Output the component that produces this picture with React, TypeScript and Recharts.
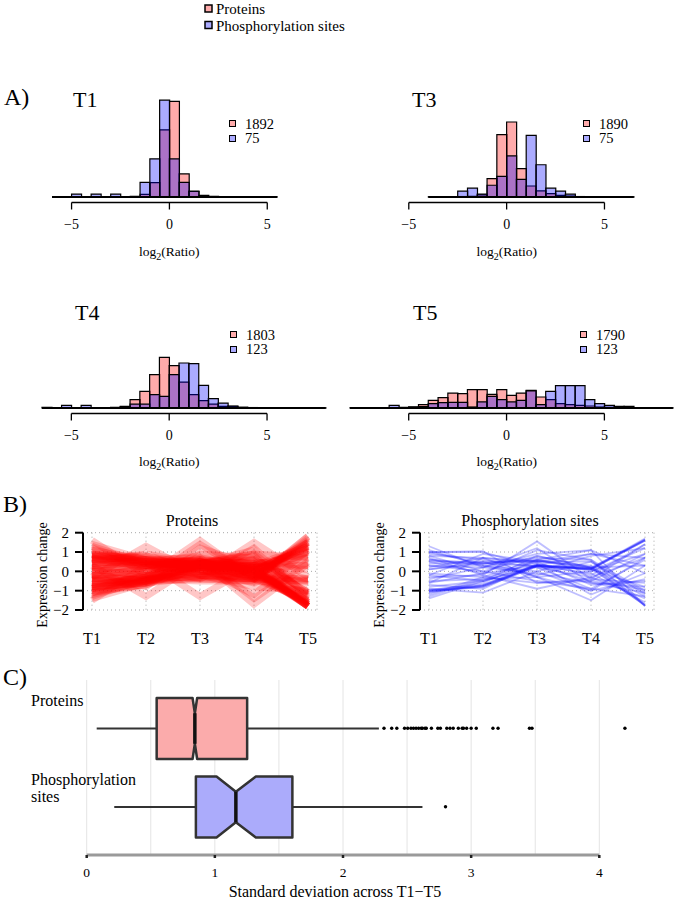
import React from "react";
import {
  ComposedChart,
  Bar,
  XAxis,
  YAxis,
  ReferenceLine,
  ReferenceDot,
  Legend,
  LineChart,
  Line,
  CartesianGrid,
} from "recharts";

const FONT = "'Liberation Serif', 'Times New Roman', Times, serif";
const PINK = "rgba(255,0,0,0.33)";
const BLUE = "rgba(0,0,255,0.33)";

// A) log2 ratio histograms (density per 0.5 wide bin)
const BIN = 0.5;
const histTicks = [-5, 0, 5];

const t1Start = -6;
const t1Proteins = [0, 0, 0, 0, 0, 0, 0, 0, 0.006, 0.024, 0.13, 0.61, 0.87, 0.21, 0.05, 0.015, 0.006, 0.003, 0.002, 0.002, 0.001, 0.001, 0.001];
const t1Sites = [0, 0, 0.027, 0, 0.027, 0, 0.027, 0, 0, 0.133, 0.347, 0.88, 0.347, 0.133, 0.053, 0, 0, 0, 0, 0, 0, 0, 0];
const t1Counts = ["1892", "75"];

const t3Start = -4;
const t3Proteins = [0.002, 0.002, 0.002, 0.004, 0.006, 0.02, 0.167, 0.567, 0.682, 0.258, 0.1, 0.055, 0.03, 0.015, 0.009, 0.004, 0.002, 0.002, 0.001, 0.001, 0.001];
const t3Sites = [0, 0, 0, 0.053, 0.08, 0.027, 0.107, 0.187, 0.373, 0.16, 0.56, 0.293, 0.08, 0.053, 0.027, 0, 0, 0, 0, 0, 0];
const t3Counts = ["1890", "75"];

const t4Start = -6.5;
const t4Proteins = [0.006, 0, 0, 0, 0, 0.002, 0.003, 0.006, 0.015, 0.076, 0.152, 0.303, 0.46, 0.385, 0.236, 0.121, 0.067, 0.036, 0.015, 0.015, 0.006, 0.004, 0.003, 0.002, 0.002, 0.001, 0.001, 0.001, 0.001];
const t4Sites = [0, 0, 0.024, 0, 0.024, 0, 0, 0, 0.012, 0.036, 0.036, 0.121, 0.106, 0.303, 0.409, 0.403, 0.206, 0.085, 0.045, 0.018, 0.006, 0, 0, 0, 0, 0, 0, 0, 0];
const t4Counts = ["1803", "123"];

const t5Start = -8;
const t5Proteins = [0.002, 0.002, 0.002, 0.003, 0.003, 0.005, 0.009, 0.03, 0.07, 0.094, 0.136, 0.13, 0.167, 0.167, 0.124, 0.167, 0.115, 0.136, 0.16, 0.1, 0.076, 0.039, 0.03, 0.024, 0.018, 0.009, 0.006, 0.003, 0.002, 0.001, 0.001, 0.001, 0.001];
const t5Sites = [0, 0, 0, 0, 0.024, 0, 0.009, 0.012, 0.039, 0.048, 0.052, 0.052, 0.009, 0.055, 0.106, 0.076, 0.055, 0.07, 0.155, 0.03, 0.152, 0.203, 0.203, 0.203, 0.076, 0.039, 0.024, 0.015, 0.015, 0, 0, 0, 0];
const t5Counts = ["1790", "123"];

// B) standardised profiles across time points
const times = ["T1", "T2", "T3", "T4", "T5"];
const profileTicks = [-2, -1, 0, 1, 2];

const proteinProfiles = [
  [0.9, 0.6, 0.3, 0.0, -1.8], [0.8, 0.5, 0.4, 0.1, -1.8], [0.7, 0.6, 0.5, 0.0, -1.8],
  [1.0, 0.5, 0.2, 0.1, -1.8], [0.6, 0.5, 0.5, 0.2, -1.8], [0.8, 0.7, 0.2, 0.0, -1.7],
  [0.5, 0.4, 0.6, 0.3, -1.8], [0.9, 0.3, 0.4, 0.2, -1.8], [0.7, 0.4, 0.3, 0.3, -1.7],
  [1.1, 0.6, 0.1, -0.2, -1.6], [0.4, 0.6, 0.7, 0.2, -1.8], [0.8, 0.8, 0.3, -0.3, -1.6],
  [0.6, 0.3, 0.6, 0.4, -1.8], [1.2, 0.3, 0.0, 0.0, -1.5], [0.3, 0.5, 0.8, 0.1, -1.7],
  [0.9, 0.5, 0.5, -0.4, -1.5], [0.7, 0.2, 0.2, 0.5, -1.6], [0.5, 0.9, 0.4, -0.1, -1.7],
  [1.3, 0.4, -0.2, -0.4, -1.1], [0.6, 0.8, 0.0, -0.2, -1.2],
  [-0.9, -0.5, 0.0, 0.0, 1.4], [-1.0, -0.4, 0.2, -0.1, 1.3], [-0.8, -0.6, 0.1, 0.0, 1.3],
  [-1.1, -0.5, 0.3, 0.1, 1.2], [-0.7, -0.4, -0.1, -0.3, 1.5], [-0.9, -0.3, 0.3, 0.2, 0.7],
  [-0.6, -0.6, -0.3, 0.0, 1.5], [-1.2, -0.5, 0.4, 0.3, 1.0], [-0.8, -0.2, 0.2, -0.2, 1.0],
  [-0.5, -0.5, -0.4, -0.4, 1.8], [-0.4, -0.4, -0.5, -0.5, 1.8], [-0.7, -0.3, -0.3, -0.4, 1.7],
  [-1.0, -0.7, 0.4, 0.1, 1.2], [-0.9, -0.2, 0.0, -0.4, 1.5], [-1.3, -0.4, 0.5, 0.4, 0.8],
  [-0.8, -0.6, 0.5, -0.2, 1.1], [-0.6, -0.5, -0.2, -0.3, 1.6], [-1.1, -0.7, 0.2, 0.3, 1.3],
  [-0.4, -0.3, 1.6, -0.4, -0.5], [-0.2, -0.5, 1.4, -0.3, -0.4], [1.6, -0.2, -0.4, -0.5, -0.5],
  [-1.5, 0.3, 0.4, 0.5, 0.3], [-0.3, 1.3, -0.2, -0.4, -0.4], [0.3, -1.3, 0.5, 0.2, 0.3],
  [0.3, 0.4, 0.6, -1.7, 0.4], [-0.5, -0.4, -0.3, 1.5, -0.3], [0.4, 0.5, -1.3, 0.3, 0.1],
  [0.2, 0.0, 0.7, -1.4, 0.5], [-0.2, -0.3, 0.9, 0.7, -1.1], [0.0, 0.2, 0.3, 0.6, -1.1],
  [-1.4, -0.6, 0.4, 0.9, 0.7], [1.4, 0.6, -0.2, -0.8, -1.0], [0.1, -0.2, 0.4, 1.1, -1.4],
  [-0.2, 0.1, 0.2, -1.2, 1.1], [0.2, 0.3, -0.4, 1.2, -1.3], [-0.3, -0.8, 1.2, 0.3, -0.4],
  [0.1, 0.3, 0.4, 0.8, -1.6], [-0.3, 0.2, 0.4, 0.9, -1.2], [0.0, -0.2, 0.1, -0.6, 0.7],
  [-0.4, 0.0, 0.5, 0.6, -0.7],
];

const siteProfiles = [
  [-1.05, -0.75, 0.3, 0.15, 1.65], [-1.0, -0.8, 0.25, 0.1, 1.6], [-1.1, -0.7, 0.35, 0.1, 1.65],
  [-1.0, -0.75, 0.3, 0.2, 1.6], [-1.05, -0.8, 0.25, 0.15, 1.7], [-0.95, -0.7, 0.3, 0.1, 1.6],
  [0.5, 0.5, 0.55, 0.2, -1.75], [0.6, 0.4, 0.6, 0.15, -1.75], [0.4, 0.45, 0.5, 0.3, -1.7],
  [1.0, 0.4, 0.3, -0.1, -1.6], [1.3, 0.2, -0.1, -0.6, -0.8], [1.0, 1.0, 0.2, -0.9, -1.3],
  [0.8, 0.7, -0.3, -1.5, 0.3], [-0.3, -0.2, 1.55, -0.4, -0.6], [-0.6, -0.1, 1.1, 0.6, -1.0],
  [0.3, 0.0, 0.8, 0.2, -1.3], [-1.3, -0.4, 0.5, 0.9, 0.3], [-0.9, -1.1, 0.0, 0.8, 1.2],
  [0.1, 0.5, -0.3, -1.0, 0.7], [-0.4, 0.2, 0.9, 1.1, -1.8], [0.7, -0.2, -0.9, -0.3, 0.7],
  [-0.6, 0.7, 0.5, 0.5, -1.1], [1.0, 1.05, -0.6, -0.5, -0.95], [-0.2, -0.5, 0.3, -0.5, 0.9],
  [0.3, 0.2, 1.2, -0.6, -1.1], [-1.2, -0.3, 0.6, 0.0, 0.9], [0.6, 0.3, -0.2, 0.5, -1.2],
  [-0.8, -0.5, 0.8, 0.2, 0.3], [0.9, 0.6, 0.2, -0.3, -1.4], [-0.5, -0.4, -0.3, 0.0, 1.2],
  [0.2, 0.7, 0.4, -1.2, -0.1], [-1.0, -0.6, 0.6, 1.1, -0.1], [1.1, 0.3, 0.0, -1.0, -0.4],
  [-0.1, -0.3, -0.6, -0.4, 1.4], [0.5, -0.1, 0.3, 0.1, -0.8], [-1.4, -0.5, 0.3, 0.9, 0.7],
  [0.1, 0.4, 0.7, 0.6, -1.8], [-0.7, -0.9, 0.4, -0.2, 1.4], [0.8, 0.0, -0.5, -0.9, 0.6],
  [-0.2, 0.9, 0.5, -0.7, -0.5],
];

// C) standard deviation across T1-T5
const boxNames = ["Proteins", "Phosphorylation sites"];
const boxLabelLines = [["Proteins"], ["Phosphorylation", "sites"]];
const boxWhiskerLo = [0.078, 0.215];
const boxQ1 = [0.546, 0.852];
const boxNotchLo = [0.826, 1.013];
const boxMedian = [0.844, 1.164];
const boxNotchHi = [0.862, 1.32];
const boxQ3 = [1.252, 1.605];
const boxWhiskerHi = [2.28, 2.62];
const proteinOutliers = [2.32, 2.38, 2.42, 2.48, 2.505, 2.53, 2.55, 2.57, 2.59, 2.61, 2.62, 2.64, 2.65, 2.69, 2.74, 2.76, 2.81, 2.835, 2.86, 2.9, 2.93, 2.94, 2.965, 3.0, 3.04, 3.17, 3.21, 3.455, 3.475, 4.2];
const siteOutliers = [2.8];
const sdTicks = [0, 1, 2, 3, 4];
const sdGrid = [0, 0.5, 1, 1.5, 2, 2.5, 3, 3.5, 4];
const boxFills = ["#fbabab", "#ababfb"];

// layout
const PX_UNIT = 19.57; // px per log2 unit in the histograms
const PX_DENS = 110; // px per density unit
const DENS_MIN = -0.05;
const DENS_MAX = 1;

const fmtMinus = (v: number) => (v < 0 ? `\u2212${Math.abs(v)}` : `${v}`);

const histPanels = [
  { title: "T1", start: t1Start, prot: t1Proteins, sites: t1Sites, counts: t1Counts, zero: 169.3, baseline: 197, legendX: 229 },
  { title: "T3", start: t3Start, prot: t3Proteins, sites: t3Sites, counts: t3Counts, zero: 506.8, baseline: 197, legendX: 583 },
  { title: "T4", start: t4Start, prot: t4Proteins, sites: t4Sites, counts: t4Counts, zero: 169.3, baseline: 408, legendX: 230 },
  { title: "T5", start: t5Start, prot: t5Proteins, sites: t5Sites, counts: t5Counts, zero: 506.8, baseline: 408, legendX: 580 },
];

function Histogram({ panel }: { panel: any }) {
  const { start, prot, sites, counts, zero, baseline, legendX } = panel;
  const rows = prot.map((p: number, i: number) => ({ bin: start + i * BIN, prot: p, sites: sites[i] }));
  const lo = start;
  const hi = start + prot.length * BIN;
  // the axis bracket may reach beyond the bins, so the value domain covers both
  const dMin = Math.min(lo, histTicks[0] - BIN);
  const dMax = Math.max(hi, histTicks[histTicks.length - 1] + BIN);
  const padL = (lo - dMin) * PX_UNIT;
  const padR = (dMax - hi) * PX_UNIT;
  const plotLeft = zero + dMin * PX_UNIT;
  const plotW = (dMax - dMin) * PX_UNIT;
  const left = plotLeft - 10;
  const top = baseline - DENS_MAX * PX_DENS - 7;
  const axisH = 34;
  const height = 7 + (DENS_MAX - DENS_MIN) * PX_DENS + axisH + 4;

  const legend = (props: any) => {
    const items = props.payload || [];
    const order = ["prot", "sites"];
    return (
      <div style={{ fontFamily: FONT, fontSize: 14.5, color: "#000" }}>
        {order.map((key, i) => {
          const item = items.find((it: any) => it.dataKey === key);
          return (
            <div key={key} style={{ display: "flex", alignItems: "center", height: 14.5 }}>
              <span style={{ display: "inline-block", width: 5, height: 5, border: "1.5px solid #000", background: item ? item.color : i ? BLUE : PINK, marginRight: 9 }} />
              <span style={{ lineHeight: "14.5px" }}>{counts[i]}</span>
            </div>
          );
        })}
      </div>
    );
  };

  return (
    <div style={{ position: "absolute", left, top }}>
      <ComposedChart width={plotW + 20} height={height} data={rows} margin={{ top: 7, right: 10, bottom: 4, left: 10 }} barCategoryGap={0} barGap={0}>
        <XAxis
          xAxisId="num"
          dataKey="bin"
          type="number"
          domain={[dMin, dMax]}
          allowDataOverflow
          ticks={histTicks}
          interval={0}
          axisLine={false}
          tickLine={{ stroke: "#000", strokeWidth: 1.3 }}
          tickSize={7}
          tickMargin={10}
          height={axisH}
          tick={{ fill: "#000", fontSize: 14, fontFamily: FONT }}
          tickFormatter={fmtMinus}
        />
        <XAxis xAxisId="p" dataKey="bin" type="category" hide height={0} padding={{ left: padL, right: padR }} />
        <XAxis xAxisId="b" dataKey="bin" type="category" hide height={0} padding={{ left: padL, right: padR }} />
        <YAxis hide domain={[DENS_MIN, DENS_MAX]} />
        <Bar xAxisId="p" dataKey="prot" name={counts[0]} fill={PINK} stroke="#000" strokeWidth={1.2} isAnimationActive={false} />
        <Bar xAxisId="b" dataKey="sites" name={counts[1]} fill={BLUE} stroke="#000" strokeWidth={1.2} isAnimationActive={false} />
        <ReferenceLine xAxisId="num" segment={[{ x: lo, y: 0 }, { x: hi, y: 0 }]} stroke="#000" strokeWidth={2} />
        <ReferenceLine
          xAxisId="num"
          segment={[{ x: histTicks[0], y: DENS_MIN }, { x: histTicks[histTicks.length - 1], y: DENS_MIN }]}
          stroke="#000"
          strokeWidth={1.3}
        />
        <Legend
          layout="vertical"
          align="center"
          verticalAlign="middle"
          content={legend}
          wrapperStyle={{ left: legendX - left, top: baseline - 80.5 - top, width: "auto", height: "auto" }}
        />
      </ComposedChart>
    </div>
  );
}

function Profiles({ left, profiles, color, opacity, lineWidth }: any) {
  const rows = times.map((t, i) => {
    const r: any = { t };
    profiles.forEach((p: number[], j: number) => {
      r[`s${j}`] = p[i];
    });
    return r;
  });
  return (
    <div style={{ position: "absolute", left, top: 520 }}>
      <LineChart width={337} height={132} data={rows} margin={{ top: 12.7, right: 20, bottom: 0, left: 20 }}>
        <CartesianGrid stroke="#a8a8a8" strokeDasharray="1 3" />
        <XAxis
          dataKey="t"
          axisLine={false}
          tickLine={false}
          padding={{ left: 9, right: 9 }}
          tickSize={6}
          tickMargin={17}
          height={42}
          interval={0}
          tick={{ fill: "#000", fontSize: 16, fontFamily: FONT }}
        />
        <YAxis
          domain={[-2, 2]}
          ticks={profileTicks}
          interval={0}
          width={63}
          axisLine={{ stroke: "#000", strokeWidth: 2 }}
          tickLine={{ stroke: "#000", strokeWidth: 2 }}
          tickSize={8}
          tickMargin={6}
          tick={{ fill: "#000", fontSize: 15, fontFamily: FONT }}
          tickFormatter={fmtMinus}
        />
        {profiles.map((_: number[], j: number) => (
          <Line
            key={j}
            dataKey={`s${j}`}
            stroke={color}
            strokeOpacity={opacity}
            strokeWidth={lineWidth}
            dot={false}
            activeDot={false}
            isAnimationActive={false}
          />
        ))}
      </LineChart>
    </div>
  );
}

const boxRows = boxNames.map((name, i) => ({
  name,
  wLo: boxWhiskerLo[i],
  q1: boxQ1[i],
  nLo: boxNotchLo[i],
  med: boxMedian[i],
  nHi: boxNotchHi[i],
  q3: boxQ3[i],
  wHi: boxWhiskerHi[i],
}));

const BoxShape = (props: any) => {
  const { x, y, width, height, payload, index } = props;
  const d = payload;
  const k = width / (d.q3 - d.q1);
  const px = (v: number) => x + (v - d.q1) * k;
  const top = y;
  const bot = y + height;
  const mid = y + height / 2;
  const inset = height / 4;
  const pts = [
    [px(d.q1), top], [px(d.nLo), top], [px(d.med), top + inset], [px(d.nHi), top], [px(d.q3), top],
    [px(d.q3), bot], [px(d.nHi), bot], [px(d.med), bot - inset], [px(d.nLo), bot], [px(d.q1), bot],
  ];
  return (
    <g>
      <line x1={px(d.wLo)} x2={px(d.q1)} y1={mid} y2={mid} stroke="#333" strokeWidth={2} />
      <line x1={px(d.q3)} x2={px(d.wHi)} y1={mid} y2={mid} stroke="#333" strokeWidth={2} />
      <polygon points={pts.map((p) => p.join(",")).join(" ")} fill={boxFills[index]} stroke="#333" strokeWidth={2.5} strokeLinejoin="round" />
      <line x1={px(d.med)} x2={px(d.med)} y1={top + inset} y2={bot - inset} stroke="#111" strokeWidth={3.5} />
    </g>
  );
};

const BoxLabel = (props: any) => {
  const { y, index } = props;
  const lines = boxLabelLines[index] || [];
  return (
    <text x={31} y={y - 22} fill="#000" fontSize={16} fontFamily={FONT}>
      {lines.map((l, i) => (
        <tspan key={l} x={31} dy={i ? 17 : 0}>
          {l}
        </tspan>
      ))}
    </text>
  );
};

function SdBoxPlot() {
  return (
    <div style={{ position: "absolute", left: 0, top: 670 }}>
      <ComposedChart layout="vertical" width={675} height={231} data={boxRows} margin={{ top: 10, right: 75.7, bottom: 6, left: 0 }}>
        <XAxis xAxisId="grid" type="number" domain={[0, 4]} allowDataOverflow ticks={sdGrid} hide height={0} />
        <CartesianGrid xAxisId="grid" horizontal={false} stroke="#e4e4e4" />
        <XAxis
          type="number"
          domain={[0, 4]}
          allowDataOverflow
          ticks={sdTicks}
          interval={0}
          axisLine={{ stroke: "#9a9a9a", strokeWidth: 3 }}
          tickLine={{ stroke: "#222", strokeWidth: 2.5 }}
          tickSize={3}
          tickMargin={9}
          height={40}
          tick={{ fill: "#000", fontSize: 13.5, fontFamily: FONT }}
        />
        <YAxis type="category" dataKey="name" width={86.7} axisLine={false} tickLine={false} tick={BoxLabel} padding={{ top: 9, bottom: 9 }} />
        <Bar dataKey={(d: any) => [d.q1, d.q3]} barSize={61} shape={BoxShape} isAnimationActive={false} />
        {proteinOutliers.map((v, i) => (
          <ReferenceDot key={`p${i}`} x={v} y={boxNames[0]} r={1.7} fill="#000" stroke="none" ifOverflow="visible" />
        ))}
        {siteOutliers.map((v, i) => (
          <ReferenceDot key={`s${i}`} x={v} y={boxNames[1]} r={1.7} fill="#000" stroke="none" ifOverflow="visible" />
        ))}
      </ComposedChart>
    </div>
  );
}

function Log2Label({ x, y }: { x: number; y: number }) {
  return (
    <text x={x} y={y} textAnchor="middle" fontSize={13.5} fontFamily={FONT} fill="#000">
      log
      <tspan dy={4} fontSize={10}>2</tspan>
      <tspan dy={-4}>(Ratio)</tspan>
    </text>
  );
}

export default function App() {
  return (
    <div style={{ position: "absolute", left: 0, top: 0, width: 675, height: 901, overflow: "hidden", background: "#fff" }}>
      {histPanels.map((p) => (
        <Histogram key={p.title} panel={p} />
      ))}
      <Profiles left={0} profiles={proteinProfiles} color="#ff0000" opacity={0.22} lineWidth={7} />
      <Profiles left={337} profiles={siteProfiles} color="#1a1aff" opacity={0.28} lineWidth={1.8} />
      <SdBoxPlot />
      <svg width={675} height={901} style={{ position: "absolute", left: 0, top: 0, pointerEvents: "none" }} fontFamily={FONT}>
        <rect x={205} y={5} width={7} height={7} fill={PINK} stroke="#000" strokeWidth={1.5} />
        <text x={216} y={14} fontSize={15}>Proteins</text>
        <rect x={205} y={21.5} width={7} height={7} fill={BLUE} stroke="#000" strokeWidth={1.5} />
        <text x={216} y={30.5} fontSize={15}>Phosphorylation sites</text>

        <text x={4} y={105} fontSize={24}>A)</text>
        <text x={3} y={512} fontSize={24}>B)</text>
        <text x={3} y={685} fontSize={24}>C)</text>

        <text x={73} y={107} fontSize={22}>T1</text>
        <text x={412} y={107} fontSize={22}>T3</text>
        <text x={75} y={320} fontSize={22}>T4</text>
        <text x={413} y={320} fontSize={22}>T5</text>

        <Log2Label x={169.3} y={256} />
        <Log2Label x={506.8} y={256} />
        <Log2Label x={169.3} y={466} />
        <Log2Label x={506.8} y={466} />

        <text x={192} y={526} fontSize={16} textAnchor="middle">Proteins</text>
        <text x={530} y={526} fontSize={16} textAnchor="middle">Phosphorylation sites</text>
        <text x={42} y={575} fontSize={14} textAnchor="middle" dominantBaseline="central" transform="rotate(-90 42 575)">Expression change</text>
        <text x={379} y={575} fontSize={14} textAnchor="middle" dominantBaseline="central" transform="rotate(-90 379 575)">Expression change</text>

        <text x={335} y={897} fontSize={16} textAnchor="middle">Standard deviation across T1{"\u2212"}T5</text>
      </svg>
    </div>
  );
}
